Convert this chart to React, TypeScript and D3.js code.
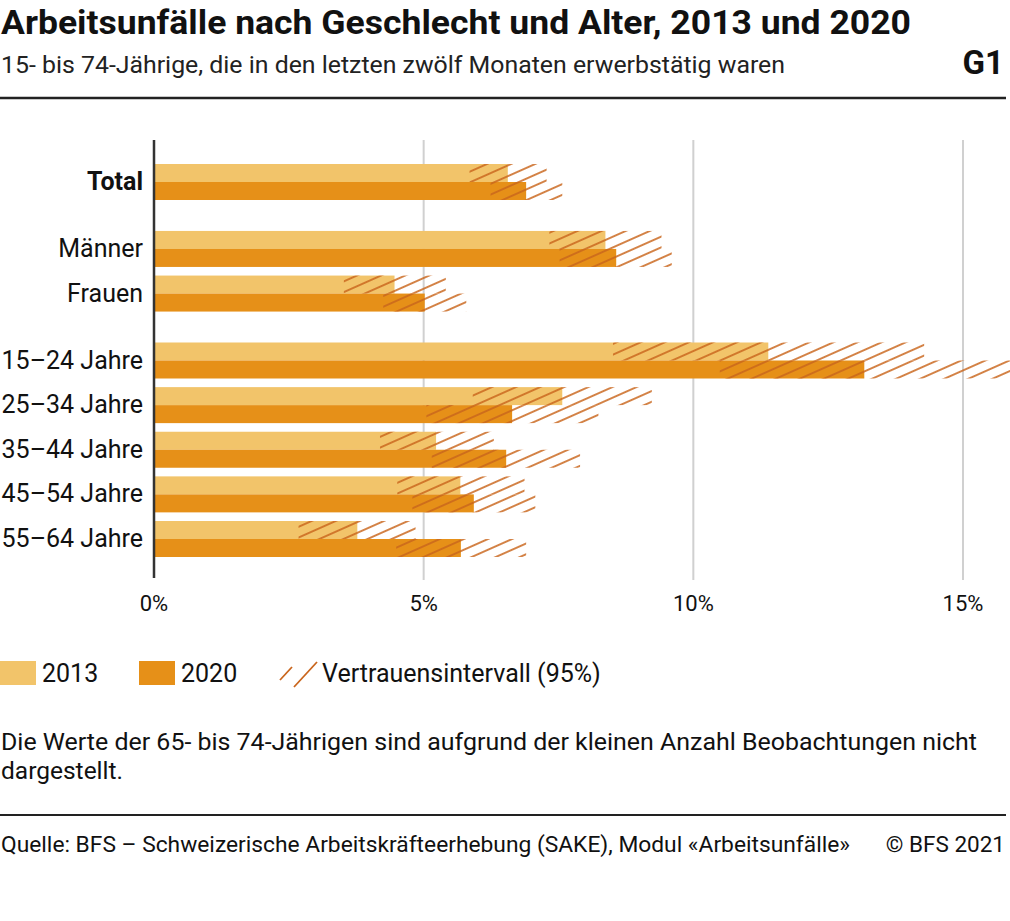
import React from 'react';
import * as d3 from 'd3';

const categories = ["Total", "Männer", "Frauen", "15–24 Jahre", "25–34 Jahre", "35–44 Jahre", "45–54 Jahre", "55–64 Jahre"];
const groups = ["total", "sex", "sex", "age", "age", "age", "age", "age"];
const values2013 = [6.56, 8.37, 4.46, 11.39, 7.57, 5.23, 5.68, 3.77];
const ci2013Low = [5.85, 7.33, 3.52, 8.51, 5.91, 4.19, 4.51, 2.68];
const ci2013High = [7.28, 9.41, 5.41, 14.28, 9.23, 6.3, 6.87, 4.85];
const values2020 = [6.9, 8.57, 5.02, 13.17, 6.64, 6.53, 5.93, 5.69];
const ci2020Low = [6.24, 7.52, 4.25, 10.49, 5.05, 5.15, 4.79, 4.49];
const ci2020High = [7.57, 9.6, 5.79, 16.0, 8.24, 7.9, 7.07, 6.9];
const xTicks = [0, 5, 10, 15];
const seriesNames = ["2013", "2020"];

const title = "Arbeitsunfälle nach Geschlecht und Alter, 2013 und 2020";
const subtitle = "15- bis 74-Jährige, die in den letzten zwölf Monaten erwerbstätig waren";
const chartId = "G1";
const ciLabel = "Vertrauensintervall (95%)";
const noteLines = [
  "Die Werte der 65- bis 74-Jährigen sind aufgrund der kleinen Anzahl Beobachtungen nicht",
  "dargestellt.",
];
const source = "Quelle: BFS – Schweizerische Arbeitskräfteerhebung (SAKE), Modul «Arbeitsunfälle»";
const copyright = "© BFS 2021";

const C2013 = "#f2c46a";
const C2020 = "#e69018";
const HATCH = "#c9651c";
const FONT = "Roboto, 'Noto Sans', sans-serif";

export default function App() {
  const W = 1010, H = 921;
  const x = d3.scaleLinear().domain([0, 15]).range([154, 963]);

  // slot positions with half-step gaps between groups
  const slots: number[] = [];
  let s = 0;
  groups.forEach((g, i) => {
    if (i > 0) s += g === groups[i - 1] ? 1 : 1.5;
    slots.push(s);
  });
  const y = d3.scaleLinear().domain([0, d3.max(slots) as number]).range([182, 539]);
  const barH = 18;

  const rows = categories.map((c, i) => ({
    c,
    i,
    yc: y(slots[i]),
    v13: values2013[i],
    v20: values2020[i],
    lo13: ci2013Low[i],
    hi13: ci2013High[i],
    lo20: ci2020Low[i],
    hi20: ci2020High[i],
  }));

  return (
    <svg width={W} height={H} style={{ position: 'absolute', left: 0, top: 0, background: '#fff' }} fontFamily={FONT}>
      <defs>
        <pattern id="hatch" patternUnits="userSpaceOnUse" width={12} height={9.8} patternTransform="rotate(-24)">
          <line x1={0} y1={4.9} x2={12} y2={4.9} stroke={HATCH} strokeWidth={1.6} />
        </pattern>
      </defs>

      {/* header */}
      <text x={1} y={34} fontSize={34} fontWeight={700} fill="#111" textLength={910} lengthAdjust="spacingAndGlyphs">{title}</text>
      <text x={1} y={73} fontSize={24} fill="#222" textLength={784} lengthAdjust="spacingAndGlyphs">{subtitle}</text>
      <text x={1004} y={74} fontSize={33} fontWeight={700} fill="#111" textAnchor="end">{chartId}</text>
      <line x1={0} x2={1006} y1={98} y2={98} stroke="#222" strokeWidth={2.5} />

      {/* grid */}
      {xTicks.filter(t => t > 0).map(t => (
        <line key={t} x1={x(t)} x2={x(t)} y1={140} y2={580} stroke="#d0d0d0" strokeWidth={2} />
      ))}

      {/* bars */}
      {rows.map(r => (
        <g key={r.c}>
          <rect x={x(0)} y={r.yc - barH} width={x(r.v13) - x(0)} height={barH} fill={C2013} />
          <rect x={x(0)} y={r.yc} width={x(r.v20) - x(0)} height={barH} fill={C2020} />
          <rect x={x(r.lo13)} y={r.yc - barH} width={x(r.hi13) - x(r.lo13)} height={barH} fill="url(#hatch)" />
          <rect x={x(r.lo20)} y={r.yc} width={x(r.hi20) - x(r.lo20)} height={barH} fill="url(#hatch)" />
          <text x={143} y={r.yc + 8} fontSize={25} textAnchor="end" fill="#111" fontWeight={r.i === 0 ? 700 : 400}>{r.c}</text>
        </g>
      ))}

      {/* axis */}
      <line x1={x(0)} x2={x(0)} y1={140} y2={578} stroke="#333" strokeWidth={2.5} />
      {xTicks.map(t => (
        <text key={t} x={x(t)} y={611} fontSize={22} textAnchor="middle" fill="#111">{`${t}%`}</text>
      ))}

      {/* legend */}
      <rect x={0} y={661} width={36} height={24} fill={C2013} />
      <text x={42} y={682} fontSize={25} fill="#111">{seriesNames[0]}</text>
      <rect x={139} y={661} width={36} height={24} fill={C2020} />
      <text x={181} y={682} fontSize={25} fill="#111">{seriesNames[1]}</text>
      <line x1={280} y1={680} x2={292} y2={667} stroke={HATCH} strokeWidth={1.8} />
      <line x1={294} y1={687} x2={317} y2={662} stroke={HATCH} strokeWidth={1.8} />
      <text x={322} y={682} fontSize={25} fill="#111">{ciLabel}</text>

      {/* note */}
      {noteLines.map((l, i) => (
        <text key={i} x={1} y={750 + i * 29} fontSize={24.5} fill="#111"
          {...(i === 0 ? { textLength: 976, lengthAdjust: 'spacingAndGlyphs' } : {})}>{l}</text>
      ))}

      {/* footer */}
      <line x1={0} x2={1006} y1={815} y2={815} stroke="#222" strokeWidth={2} />
      <text x={1} y={852} fontSize={22.5} fill="#111" textLength={849} lengthAdjust="spacingAndGlyphs">{source}</text>
      <text x={1005} y={852} fontSize={22.5} fill="#111" textAnchor="end">{copyright}</text>
    </svg>
  );
}
